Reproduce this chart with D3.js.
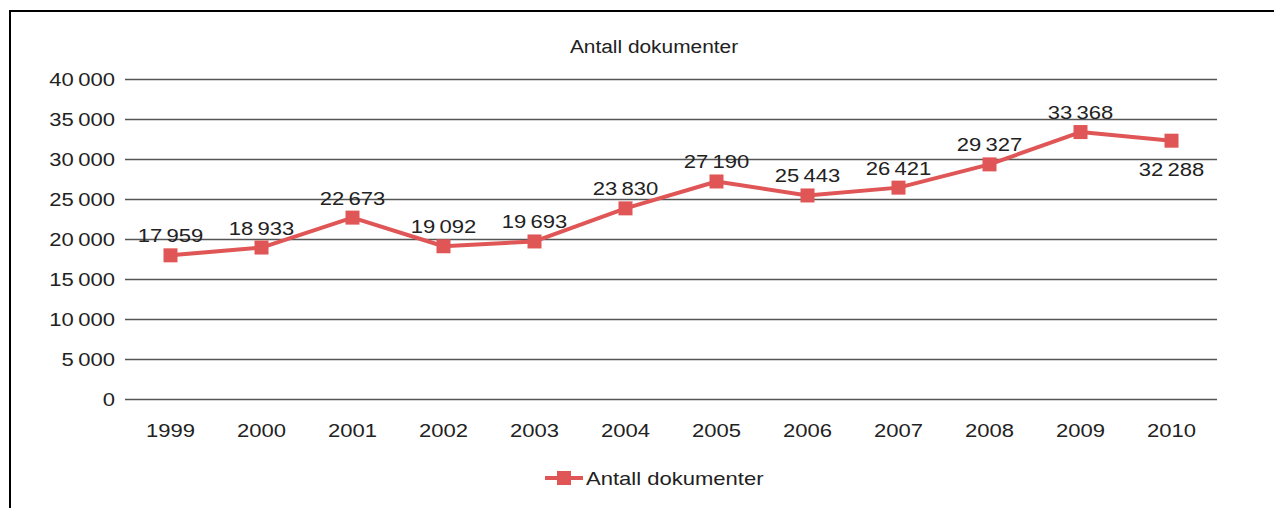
<!DOCTYPE html>
<html>
<head>
<meta charset="utf-8">
<script src="https://cdn.jsdelivr.net/npm/d3@7"></script>
<style>
  body { margin: 0; background: #fff; }
  svg { display: block; font-family: "Liberation Sans", Arial, sans-serif; }
</style>
</head>
<body>
<svg id="chart"></svg>
<script>
const years = ["1999","2000","2001","2002","2003","2004","2005","2006","2007","2008","2009","2010"]
const values = [17959, 18933, 22673, 19092, 19693, 23830, 27190, 25443, 26421, 29327, 33368, 32288]
const yTicks = [0, 5000, 10000, 15000, 20000, 25000, 30000, 35000, 40000]
const seriesName = "Antall dokumenter"

const width = 1274, height = 508
const colors = {
    line: "#E05656",
    grid: "#555555",
    text: "#222222"
}
const sx = 1.16 // tekst er strukket litt horisontalt i originalen

const svg = d3.select("#chart").attr("width", width).attr("height", height)

// strekk tekst horisontalt rundt ankerpunktet
function stretch(sel) {
    sel.each(function () {
        const t = d3.select(this)
        const tx = +t.attr("x") || 0, ty = +t.attr("y") || 0
        t.attr("transform", `translate(${tx},${ty}) scale(${sx},1) translate(${-tx},${-ty})`)
    })
}

// ramme rundt diagrammet
svg.append("rect")
    .attr("x", 10).attr("y", 11)
    .attr("width", width).attr("height", height)
    .attr("fill", "none").attr("stroke", "#000").attr("stroke-width", 2)

const margin = {left: 125, right: 1217, top: 79, bottom: 399}

const x = d3.scaleBand().domain(years).range([margin.left, margin.right])
const y = d3.scaleLinear().domain([0, 40000]).range([margin.bottom, margin.top])

const fmt = v => d3.format(",")(v).replace(/,/g, "\u2009")

// rutenett
svg.append("g").selectAll("line")
    .data(yTicks).enter().append("line")
    .attr("x1", margin.left).attr("x2", margin.right)
    .attr("y1", d => y(d) + 0.5).attr("y2", d => y(d) + 0.5)
    .attr("stroke", colors.grid).attr("stroke-width", 1.3)

// y-akse
const yAxis = svg.append("g").attr("transform", `translate(${margin.left},0)`)
    .call(d3.axisLeft(y).tickValues(yTicks).tickSize(0).tickPadding(10).tickFormat(fmt))
yAxis.select(".domain").remove()
yAxis.selectAll("text").attr("font-size", 19).attr("fill", colors.text).attr("font-family", null).call(stretch)

// x-akse
const xAxis = svg.append("g").attr("transform", `translate(0,${margin.bottom})`)
    .call(d3.axisBottom(x).tickSize(0).tickPadding(25))
xAxis.select(".domain").remove()
xAxis.selectAll("text").attr("font-size", 19).attr("fill", colors.text).attr("font-family", null).call(stretch)

// tittel
svg.append("text")
    .attr("x", 654).attr("y", 53)
    .attr("text-anchor", "middle")
    .attr("font-size", 18).attr("fill", colors.text)
    .text(seriesName)
    .call(stretch)

const cx = (d, i) => x(years[i]) + x.bandwidth() / 2

// linje
const line = d3.line().x((d, i) => cx(d, i)).y(d => y(d))
svg.append("path")
    .datum(values)
    .attr("d", line)
    .attr("fill", "none").attr("stroke", colors.line).attr("stroke-width", 4)
    .attr("stroke-linejoin", "round")

// punkter
svg.append("g").selectAll("rect")
    .data(values).enter().append("rect")
    .attr("x", (d, i) => cx(d, i) - 7).attr("y", d => y(d) - 7)
    .attr("width", 14).attr("height", 14)
    .attr("fill", colors.line)

// dataetiketter (siste under punktet)
svg.append("g").selectAll("text")
    .data(values).enter().append("text")
    .attr("x", (d, i) => cx(d, i))
    .attr("y", (d, i) => i === values.length - 1 ? y(d) + 35 : y(d) - 13)
    .attr("text-anchor", "middle")
    .attr("font-size", 19).attr("fill", colors.text)
    .text(fmt)
    .call(stretch)

// forklaring
const lg = svg.append("g").attr("transform", "translate(545,478)")
lg.append("line").attr("x1", 0).attr("x2", 38).attr("y1", 0).attr("y2", 0)
    .attr("stroke", colors.line).attr("stroke-width", 4)
lg.append("rect").attr("x", 12).attr("y", -7).attr("width", 14).attr("height", 14).attr("fill", colors.line)
lg.append("text").attr("x", 41).attr("y", 7)
    .attr("font-size", 19).attr("fill", colors.text)
    .text(seriesName)
    .call(stretch)
</script>
</body>
</html>
